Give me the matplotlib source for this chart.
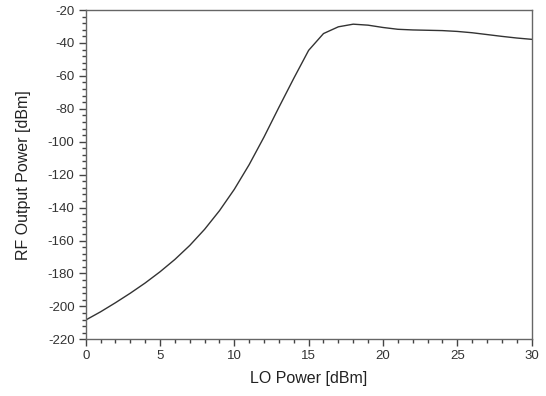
import matplotlib
matplotlib.use("Agg")
import matplotlib.pyplot as plt
from matplotlib.ticker import MultipleLocator

plt.rcParams['font.family'] = ['Liberation Sans', 'DejaVu Sans']
plt.rcParams['axes.unicode_minus'] = False

lo_power = [0, 1, 2, 3, 4, 5, 6, 7, 8, 9, 10, 11, 12, 13, 14, 15,
            16, 17, 18, 19, 20, 21, 22, 23, 24, 25, 26, 27, 28, 29, 30]
rf_output = [-208.3, -203.3, -197.8, -192, -185.8, -179, -171.5, -163,
             -153.2, -141.9, -128.9, -113.9, -97.1, -79.1, -61.5, -44.5,
             -34.3, -30.2, -28.6, -29.2, -30.6, -31.7, -32.1, -32.3, -32.5,
             -33, -33.8, -34.9, -36, -37, -37.8]

fig = plt.figure(figsize=(5.46, 3.96), dpi=100)
ax = fig.add_axes([0.157, 0.1432, 0.8165, 0.8315])
ax.plot(lo_power, rf_output, color="#333333", linewidth=1.0)

ax.set_xlim(0, 30)
ax.set_ylim(-220, -20)
ax.xaxis.set_major_locator(MultipleLocator(5))
ax.xaxis.set_minor_locator(MultipleLocator(1))
ax.yaxis.set_major_locator(MultipleLocator(20))
ax.yaxis.set_minor_locator(MultipleLocator(4))
ax.tick_params(which="both", direction="out", top=False, right=False,
               labelsize=9.5, labelcolor="#333333", color="#444444", width=1.0)
ax.tick_params(which="major", length=5, pad=3)
ax.tick_params(which="minor", length=3)
for s in ax.spines.values():
    s.set_color("#666666")
    s.set_linewidth(1.0)

ax.set_xlabel("LO Power [dBm]", fontsize=11.5, color="#222222", labelpad=6)
ax.set_ylabel("RF Output Power [dBm]", fontsize=11.5, color="#222222", labelpad=12)

fig.savefig("out.png", dpi=100)
